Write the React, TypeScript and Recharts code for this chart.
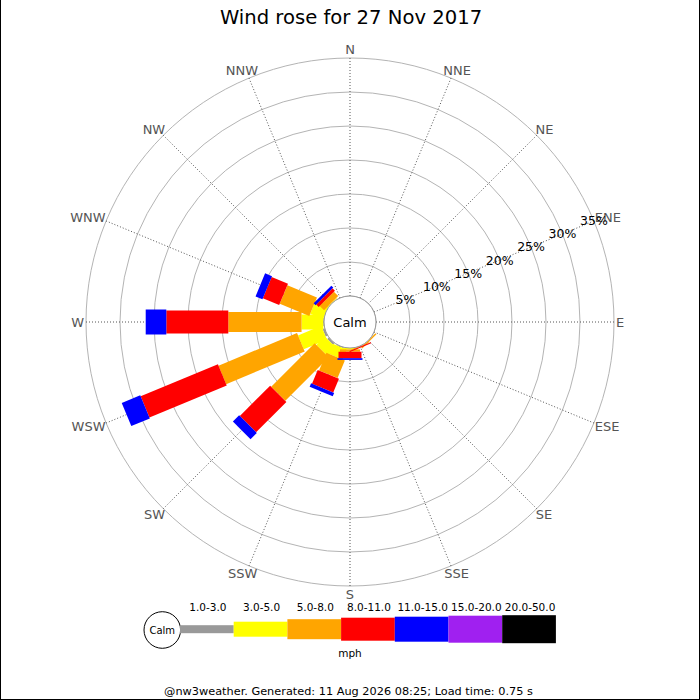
import React from 'react';
import {
  RadialBarChart,
  RadialBar,
  PolarAngleAxis,
  PolarRadiusAxis,
  PolarGrid,
} from 'recharts';

// ---------- data ----------
const directions = ['N', 'NNE', 'NE', 'ENE', 'E', 'ESE', 'SE', 'SSE', 'S', 'SSW', 'SW', 'WSW', 'W', 'WNW', 'NW', 'NNW'];
const speedBands = ['1.0-3.0', '3.0-5.0', '5.0-8.0', '8.0-11.0', '11.0-15.0', '15.0-20.0', '20.0-50.0'];
const bandColors = ['#999999', '#ffff00', '#ffa500', '#ff0000', '#0000ff', '#a020f0', '#000000'];
//                   N  NNE NE ENE E  ESE SE   SSE   S     SSW   SW    WSW   W      WNW   NW   NNW
const band1to3   = [0, 0, 0, 0, 0, 0, 0,    0,    0,    0.1,  0.3,  0.3,  0.1,   0,    0,   0];
const band3to5   = [0, 0, 0, 0, 0, 0, 0,    0,    0.2,  1.6,  1.75, 3.7,  3.2,   2.05, 0.1, 0];
const band5to8   = [0, 0, 0, 0, 0, 0, 0.2,  0.1,  0.35, 2.8,  9.05, 12.5, 10.77, 4.7,  0.9, 0];
const band8to11  = [0, 0, 0, 0, 0, 0, 0,    0.15, 0.95, 2.2,  6.3,  12.3, 9.12,  2.6,  0.5, 0];
const band11to15 = [0, 0, 0, 0, 0, 0, 0,    0,    0.25, 0.55, 1.3,  2.95, 3.03,  1.1,  0.4, 0];
const band15to20 = [0, 0, 0, 0, 0, 0, 0,    0,    0,    0,    0,    0,    0,     0,    0,   0];
const band20to50 = [0, 0, 0, 0, 0, 0, 0,    0,    0,    0,    0,    0,    0,     0,    0,   0];
const percentTicks = [0, 5, 10, 15, 20, 25, 30, 35];

const bandSeries = [band1to3, band3to5, band5to8, band8to11, band11to15, band15to20, band20to50];
const bandKeys = ['b0', 'b1', 'b2', 'b3', 'b4', 'b5', 'b6'];

const rows = directions.map((dir, i) => {
  const row: Record<string, any> = { dir };
  bandKeys.forEach((k, j) => {
    row[k] = bandSeries[j][i];
  });
  return row;
});

// ---------- styling ----------
const FONT = 'DejaVu Sans';
const bandWidths = [8, 15, 20, 23, 25, 27, 28];
const CX = 350;
const CY = 322;
const INNER = 26;
const OUTER = 264;

const charW: Record<string, number> = { N: 0.748, E: 0.632, S: 0.635, W: 0.989 };

// The sector's leading edge (startAngle) coincides with the category tick direction.
const makeShape = (w: number) => (props: any) => {
  const { cx, cy, innerRadius, outerRadius, startAngle, fill } = props;
  if (!(outerRadius - innerRadius > 0.01)) return <g />;
  const dir = startAngle * (Math.PI / 180);
  const ux = Math.cos(dir);
  const uy = -Math.sin(dir);
  const nx = -uy;
  const ny = ux;
  const h = w / 2;
  const pt = (r: number, s: number) => `${cx + ux * r + nx * s * h},${cy + uy * r + ny * s * h}`;
  const pts = [pt(innerRadius, -1), pt(innerRadius, 1), pt(outerRadius, 1), pt(outerRadius, -1)].join(' ');
  return <polygon points={pts} fill={fill} stroke="none" />;
};

const renderAngleTick = (props: any) => {
  const { x, y, payload } = props;
  const a = (payload.coordinate * Math.PI) / 180;
  const c = Math.cos(a);
  const s = Math.sin(a);
  const label = String(payload.value);
  const wEm = label.split('').reduce((acc, ch) => acc + (charW[ch] || 0.7), 0);
  const half = (wEm * 13) / 2;
  return (
    <text
      x={x + c * half}
      y={y - s * 6.5}
      textAnchor="middle"
      dominantBaseline="central"
      fontSize={13}
      fontFamily={FONT}
      fill="#555555"
    >
      {label}
    </text>
  );
};

const renderRadiusTick = (props: any) => {
  const { x, y, payload } = props;
  if (payload.value === 0) return <g />;
  return (
    <text x={x} y={y} textAnchor="middle" dominantBaseline="central" fontSize={12.5} fontFamily={FONT} fill="#000">
      {`${payload.value}%`}
    </text>
  );
};

const Overlay = () => {
  const blockX0 = 180;
  const blockW = 53.7;
  const blockCY = 629.2;
  return (
    <svg width={700} height={700} style={{ position: 'absolute', left: 0, top: 0, pointerEvents: 'none' }}>
      {/* calm circle */}
      <circle cx={CX} cy={CY} r={INNER} fill="#fff" stroke="#999" strokeWidth={1} />
      <text x={CX} y={CY} textAnchor="middle" dominantBaseline="central" fontSize={13} fontFamily={FONT} fill="#000">
        Calm
      </text>
      {/* title */}
      <text x={351} y={17.5} textAnchor="middle" dominantBaseline="central" fontSize={19.6} fontFamily={FONT} fill="#000">
        Wind rose for 27 Nov 2017
      </text>
      {/* legend */}
      <circle cx={162.3} cy={630} r={18.3} fill="#fff" stroke="#000" strokeWidth={1} />
      <text x={162.3} y={630} textAnchor="middle" dominantBaseline="central" fontSize={10} fontFamily={FONT} fill="#000">
        Calm
      </text>
      {speedBands.map((label, i) => {
        const h = bandWidths[i];
        const x = blockX0 + i * blockW;
        return (
          <g key={label}>
            <rect x={x} y={blockCY - h / 2} width={blockW} height={h} fill={bandColors[i]} />
            <text
              x={x + blockW / 2 + 1}
              y={607}
              textAnchor="middle"
              dominantBaseline="central"
              fontSize={10.5}
              fontFamily={FONT}
              fill="#000"
            >
              {label}
            </text>
          </g>
        );
      })}
      <text x={350} y={653} textAnchor="middle" dominantBaseline="central" fontSize={10.5} fontFamily={FONT} fill="#000">
        mph
      </text>
      {/* footer */}
      <text x={348.5} y={691} textAnchor="middle" dominantBaseline="central" fontSize={11.3} fontFamily={FONT} fill="#000">
        @nw3weather. Generated: 11 Aug 2026 08:25; Load time: 0.75 s
      </text>
      {/* frame */}
      <line x1={0.5} y1={0} x2={0.5} y2={700} stroke="#000" strokeWidth={1} />
      <line x1={699.5} y1={0} x2={699.5} y2={700} stroke="#000" strokeWidth={1} />
      <line x1={0} y1={699.5} x2={700} y2={699.5} stroke="#000" strokeWidth={1} />
    </svg>
  );
};

export default function App() {
  return (
    <div style={{ position: 'absolute', left: 0, top: 0, width: 700, height: 700, background: '#fff' }}>
      <RadialBarChart
        width={700}
        height={700}
        cx={CX}
        cy={CY}
        innerRadius={INNER}
        outerRadius={OUTER}
        startAngle={90}
        endAngle={-270}
        data={rows}
        layout="centric"
        barCategoryGap={0}
        margin={{ top: 0, right: 0, bottom: 0, left: 0 }}
      >
        <PolarGrid gridType="circle" radialLines={false} stroke="#b4b4b4" strokeWidth={1} />
        <PolarGrid gridType="circle" polarRadius={[0]} stroke="#555" strokeDasharray="1 2" strokeWidth={1} />
        <PolarAngleAxis
          type="category"
          dataKey="dir"
          axisLine={false}
          tickLine={false}
          tickSize={2}
          tick={renderAngleTick}
        />
        <PolarRadiusAxis
          type="number"
          domain={[0, 35]}
          ticks={percentTicks}
          angle={22.5}
          axisLine={false}
          tickLine={false}
          tick={renderRadiusTick}
        />
        {bandKeys.map((k, j) => (
          <RadialBar
            key={k}
            dataKey={k}
            name={speedBands[j]}
            stackId="wind"
            fill={bandColors[j]}
            isAnimationActive={false}
            shape={makeShape(bandWidths[j])}
          />
        ))}
      </RadialBarChart>
      <Overlay />
    </div>
  );
}
